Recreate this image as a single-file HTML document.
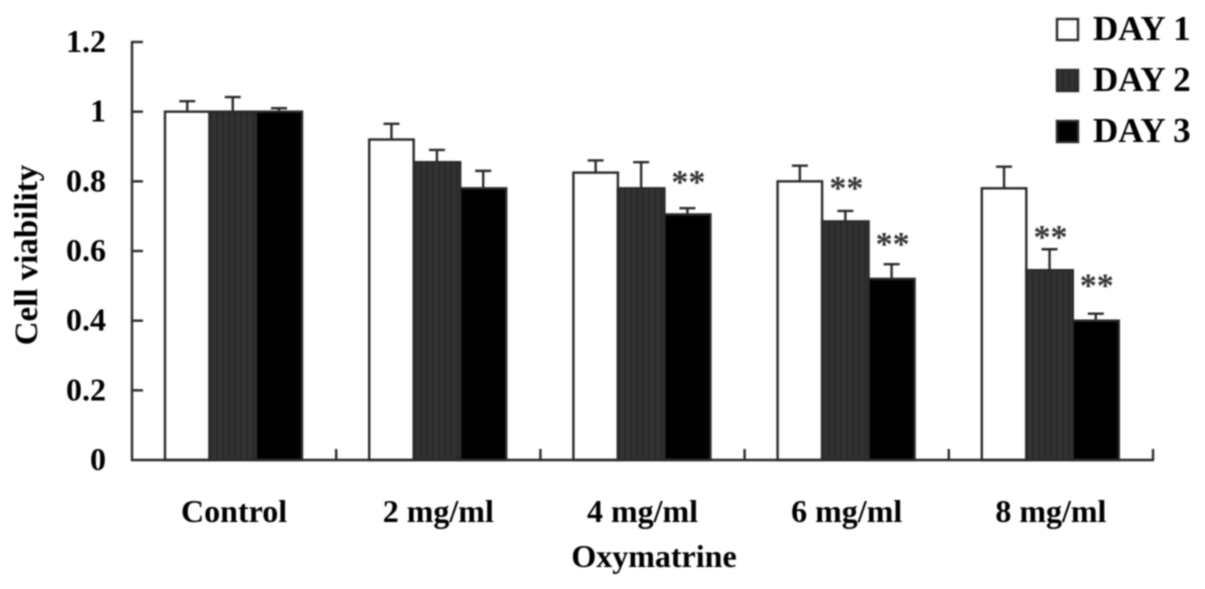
<!DOCTYPE html>
<html>
<head>
<meta charset="utf-8">
<style>
html,body{margin:0;padding:0;background:#fff;width:1205px;height:589px;overflow:hidden}
svg{display:block;filter:blur(0.8px)}
text{font-family:"Liberation Serif",serif;font-weight:bold;fill:#000}
</style>
</head>
<body>
<svg id="chart" width="1205" height="589" viewBox="0 0 1205 589" xmlns="http://www.w3.org/2000/svg">
<defs>
<pattern id="stripes" width="6" height="6" patternUnits="userSpaceOnUse">
<rect width="6" height="6" fill="#333"/>
<rect width="2" height="6" fill="#292929"/>
</pattern>
</defs>
</svg>
<script>
const categories = ['Control', '2 mg/ml', '4 mg/ml', '6 mg/ml', '8 mg/ml'];
const seriesNames = ['DAY 1', 'DAY 2', 'DAY 3'];
const day1 = [1, 0.92, 0.825, 0.8, 0.78];
const day2 = [1, 0.855, 0.78, 0.685, 0.545];
const day3 = [1, 0.78, 0.705, 0.52, 0.4];
const day1Err = [0.03, 0.045, 0.035, 0.045, 0.062];
const day2Err = [0.042, 0.035, 0.075, 0.03, 0.06];
const day3Err = [0.01, 0.05, 0.018, 0.042, 0.02];
const day1Sig = ['', '', '', '', ''];
const day2Sig = ['', '', '', '**', '**'];
const day3Sig = ['', '', '**', '**', '**'];
const day2SigGap = [0, 0, 0, 0.083, 0.052];
const day3SigGap = [0, 0, 0.092, 0.075, 0.098];
const day1SigGap = [0, 0, 0, 0, 0];
const yTicks = [0, 0.2, 0.4, 0.6, 0.8, 1, 1.2];

const NS = 'http://www.w3.org/2000/svg';
const svg = document.getElementById('chart');
const X0 = 132, X1 = 1153, Y0 = 460, YTOP = 42, YMAX = 1.2;
const FS = 32;
const STROKE = '#2a2a2a';
const SW = 2.4;
const yScale = v => Y0 - (v / YMAX) * (Y0 - YTOP);
const catW = (X1 - X0) / categories.length;
const catX = i => X0 + i * catW;
const barEdges = [33, 77.5, 124, 170];
const fills = ['#fff', 'url(#stripes)', '#000'];
const values = [day1, day2, day3];
const errs = [day1Err, day2Err, day3Err];
const sigs = [day1Sig, day2Sig, day3Sig];
const gaps = [day1SigGap, day2SigGap, day3SigGap];
const seriesKeys = ['day-1', 'day-2', 'day-3'];

function mk(tag, attrs, parent) {
  const el = document.createElementNS(NS, tag);
  for (const k in attrs) el.setAttribute(k, attrs[k]);
  (parent || svg).appendChild(el);
  return el;
}
function line(x1, y1, x2, y2, parent) {
  return mk('line', {x1, y1, x2, y2, stroke: STROKE, 'stroke-width': SW}, parent);
}

/* bars and error bars */
categories.forEach((cat, i) => {
  values.forEach((vals, s) => {
    const xa = catX(i) + barEdges[s], xb = catX(i) + barEdges[s + 1];
    const cx = (xa + xb) / 2;
    const g = mk('g', {});
    
    
    const top = yScale(vals[i] + errs[s][i]);
    const whisker = line(cx, yScale(vals[i]), cx, top, g);
    
    
    const cap = line(cx - 8, top, cx + 8, top, g);
    
    
    const r = mk('rect', {x: xa, y: yScale(vals[i]), width: xb - xa, height: Y0 - yScale(vals[i]), fill: fills[s], stroke: STROKE, 'stroke-width': SW}, g);
    
    
    if (sigs[s][i]) {
      const starY = yScale(vals[i] + errs[s][i] + gaps[s][i]) + 17;
      const t = mk('text', {x: cx + 1, y: starY, 'text-anchor': 'middle', 'font-size': 34, style: 'fill:#333'});
      t.textContent = sigs[s][i];
      
      
    }
  });
});

/* y axis */
const yAxis = mk('g', {});


line(X0, YTOP - 1, X0, Y0 + 1, yAxis);
yTicks.forEach(v => {
  const y = yScale(v);
  if (v > 0) {
    const tk = line(X0, y, X0 + 11, y, yAxis);
    
    
  }
  const t = mk('text', {x: 106, y: y + 10, 'text-anchor': 'end', 'font-size': FS}, yAxis);
  t.textContent = String(v);
  
  
});

/* x axis */
const xAxis = mk('g', {});


line(X0 - 1, Y0, X1 + 1, Y0, xAxis);
categories.forEach((cat, i) => {
  const xr = catX(i + 1);
  const tk = line(xr, Y0, xr, Y0 - 11, xAxis);
  
  
  const t = mk('text', {x: catX(i) + catW / 2, y: 522, 'text-anchor': 'middle', 'font-size': FS}, xAxis);
  t.textContent = cat;
  
  
});

/* axis titles */
const xTitle = mk('text', {x: 654, y: 567, 'text-anchor': 'middle', 'font-size': FS});
xTitle.textContent = 'Oxymatrine';


const yTitle = mk('text', {x: 0, y: 0, 'text-anchor': 'middle', 'font-size': 33, transform: 'translate(37 255) rotate(-90)'});
yTitle.textContent = 'Cell viability';



/* legend */
seriesNames.forEach((name, s) => {
  const cy = 29 + s * 51;
  const g = mk('g', {});
  
  
  const sw = mk('rect', {x: 1057, y: cy - 10, width: 21, height: 21, fill: fills[s], stroke: STROKE, 'stroke-width': SW}, g);
  
  
  const t = mk('text', {x: 1093, y: cy + 11, 'font-size': 35}, g);
  t.textContent = name;
  
  
});
</script>
</body>
</html>
